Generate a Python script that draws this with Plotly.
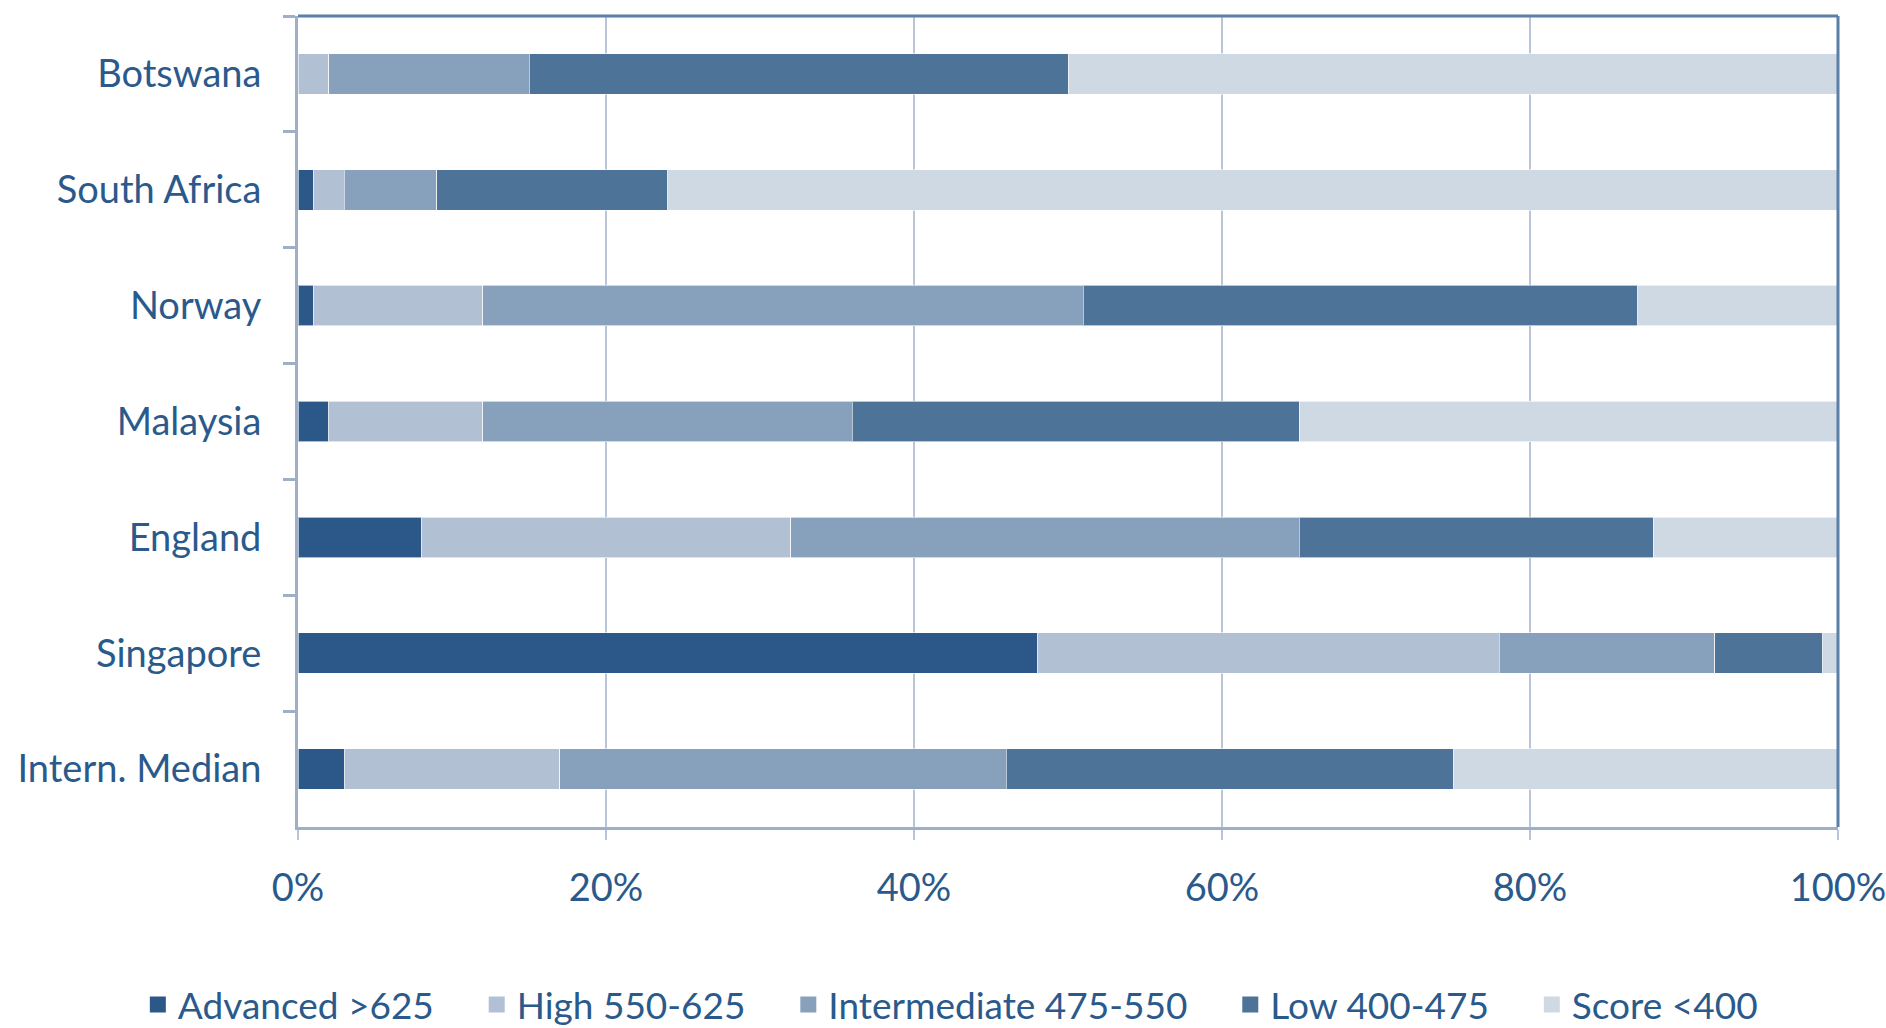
import plotly.graph_objects as go

countries = ["Botswana", "South Africa", "Norway", "Malaysia", "England", "Singapore", "Intern. Median"]
series_names = ["Advanced >625", "High 550-625", "Intermediate 475-550", "Low 400-475", "Score <400"]
advanced = [0, 1, 1, 2, 8, 48, 3]
high = [2, 2, 11, 10, 24, 30, 14]
intermediate = [13, 6, 39, 24, 33, 14, 29]
low = [35, 15, 36, 29, 23, 7, 29]
below = [50, 76, 13, 35, 12, 1, 25]
x_ticks = [0, 20, 40, 60, 80, 100]
x_tick_labels = ["0%", "20%", "40%", "60%", "80%", "100%"]

colors = ["#2B5888", "#B1C1D3", "#87A0BB", "#4D7399", "#CFD9E4"]
series = [advanced, high, intermediate, low, below]

FONT = "Lato, Liberation Sans, sans-serif"
TXT = "#2A5A8C"
PAD = "\u00a0" * 4

fig = go.Figure()
for name, vals, col in zip(series_names, series, colors):
    fig.add_trace(go.Bar(
        y=countries, x=vals, name=name, orientation="h", showlegend=False,
        legendgroup=name,
        marker=dict(color=col, line=dict(color="rgba(255,255,255,0.6)", width=1)),
    ))
# legend entries with larger square swatches
for name, col in zip(series_names, colors):
    fig.add_trace(go.Scatter(
        x=[None], y=[None], mode="markers", name=name + PAD, legendgroup=name,
        marker=dict(symbol="square", size=22, color=col), hoverinfo="skip",
    ))

fig.update_layout(
    barmode="stack",
    bargap=0.65,
    width=1886, height=1028,
    margin=dict(l=298, r=48, t=16, b=201, autoexpand=False),
    plot_bgcolor="white", paper_bgcolor="white",
    font=dict(family=FONT, size=37, color=TXT),
    showlegend=True,
    legend=dict(
        orientation="h", xref="paper", yref="paper",
        x=-0.104, xanchor="left", y=-0.2195, yanchor="middle",
        font=dict(size=37, color=TXT), traceorder="normal",
        itemwidth=30, tracegroupgap=0, bgcolor="rgba(0,0,0,0)",
    ),
    xaxis=dict(
        range=[0, 100], tickvals=x_ticks, ticktext=x_tick_labels,
        showgrid=True, gridcolor="#B8C6D8", gridwidth=2,
        showline=True, linecolor="#9DB0C8", linewidth=3,
        ticks="outside", ticklen=10, tickcolor="#B8C6D8", tickwidth=2,
        zeroline=False, ticklabelstandoff=15, ticklabeloverflow="allow",
        automargin=False,
        tickfont=dict(size=38, color=TXT, family=FONT),
    ),
    yaxis=dict(
        autorange="reversed", showgrid=False,
        showline=True, linecolor="#9DB0C8", linewidth=3,
        ticks="outside", ticklen=12, tickcolor="#9DB0C8", tickwidth=3,
        tickson="boundaries", ticklabelstandoff=26, automargin=False,
        tickfont=dict(size=38, color=TXT, family=FONT),
    ),
)

# darker frame on top and right of plot area
fig.add_shape(type="line", xref="x domain", yref="y domain", x0=0, x1=1, y0=1, y1=1,
              line=dict(color="#5B7FA6", width=3))
fig.add_shape(type="line", xref="x domain", yref="y domain", x0=1, x1=1, y0=0, y1=1,
              line=dict(color="#5B7FA6", width=3))

fig.write_html("out.html")
